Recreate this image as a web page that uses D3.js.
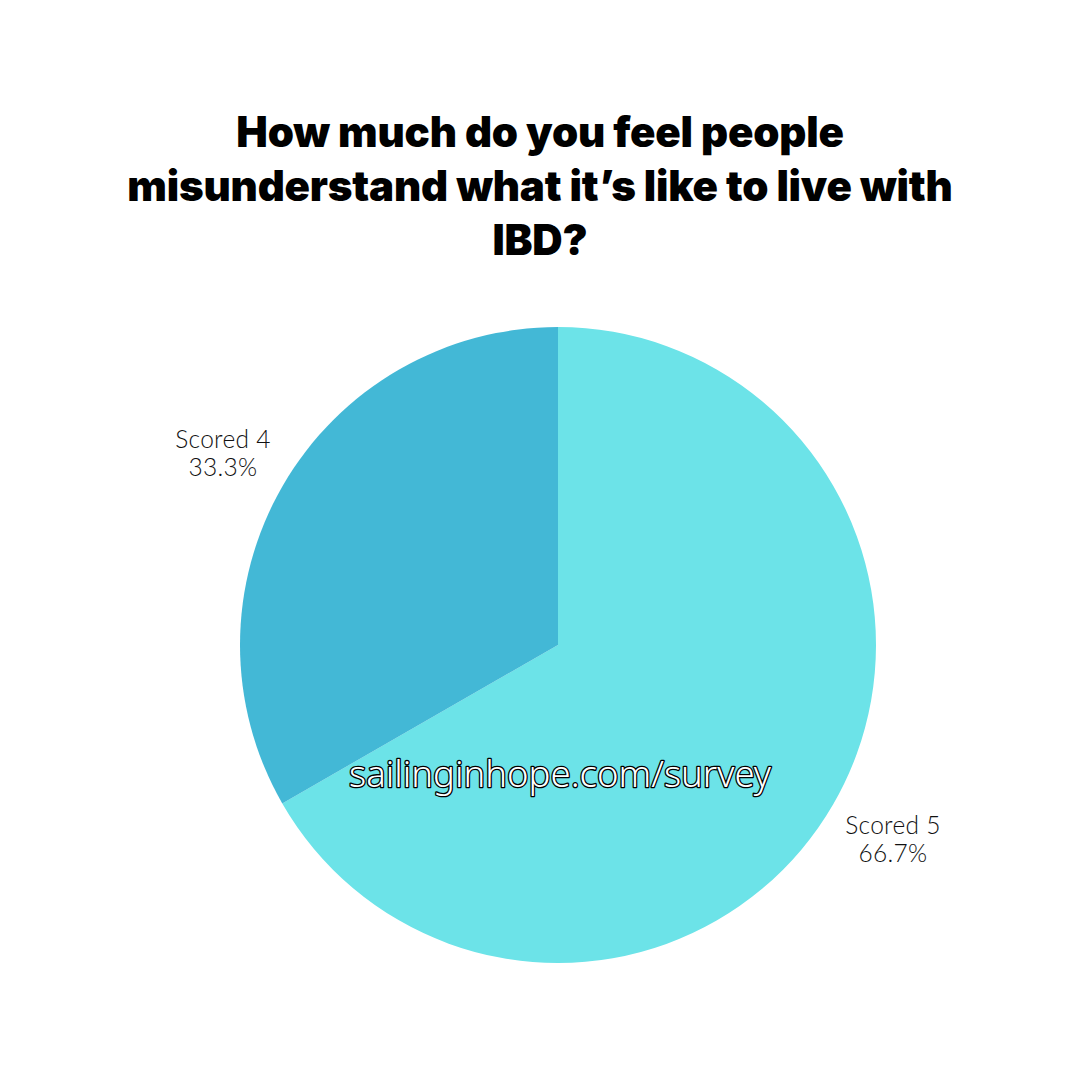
<!DOCTYPE html>
<html><head><meta charset="utf-8">
<script src="https://cdn.jsdelivr.net/npm/d3@7"></script>
<style>html,body{margin:0;padding:0;background:#fff;}</style>
</head><body>
<svg id="c" width="1080" height="1080"></svg>
<script>
const categories = ["Scored 5", "Scored 4"];
const values = [66.7, 33.3];
const labels = ["66.7%", "33.3%"];
const colors = ["#6ce3e8", "#43b8d6"];
const titleLines = ["How much do you feel people", "misunderstand what it’s like to live with", "IBD?"];
const watermark = "sailinginhope.com/survey";

const svg = d3.select("#c");
svg.append("rect").attr("width",1080).attr("height",1080).attr("fill","#fff");

const t = svg.append("g");
titleLines.forEach((l,i)=>{
  t.append("text").attr("x",540).attr("y",147+i*54).attr("text-anchor","middle")
   .attr("font-family","Inter, 'Open Sans', sans-serif").attr("font-weight",900)
   .attr("font-size",42).attr("letter-spacing","-0.2").attr("fill","#000").text(l);
});

const cx=558, cy=645, r=318;
const pie = d3.pie().sort(null).value(d=>d)(values);
const arc = d3.arc().innerRadius(0).outerRadius(r);
const g = svg.append("g").attr("transform",`translate(${cx},${cy})`);
g.selectAll("path").data(pie).join("path").attr("d",arc).attr("fill",(d,i)=>colors[i]);

const pos = [[893-cx, 834-cy],[223-cx, 448-cy]];
pie.forEach((d,i)=>{
  const tx = g.append("text").attr("text-anchor","middle")
    .attr("font-family","Lato, 'Open Sans', sans-serif").attr("font-weight",300)
    .attr("font-size",24.5).attr("letter-spacing","0.3").attr("fill","#111");
  tx.append("tspan").attr("x",pos[i][0]).attr("y",pos[i][1]).text(categories[i]);
  tx.append("tspan").attr("x",pos[i][0]).attr("y",pos[i][1]+28).text(labels[i]);
});

svg.append("text").attr("x",560).attr("y",787).attr("text-anchor","middle")
  .attr("font-family","'Noto Sans', 'Open Sans', sans-serif").attr("font-weight",300)
  .attr("font-size",37).attr("fill","#fff").attr("stroke","#000").attr("stroke-width",2.6)
  .attr("stroke-linejoin","round")
  .attr("paint-order","stroke").attr("textLength",422).attr("lengthAdjust","spacingAndGlyphs").text(watermark);
</script>
</body></html>
